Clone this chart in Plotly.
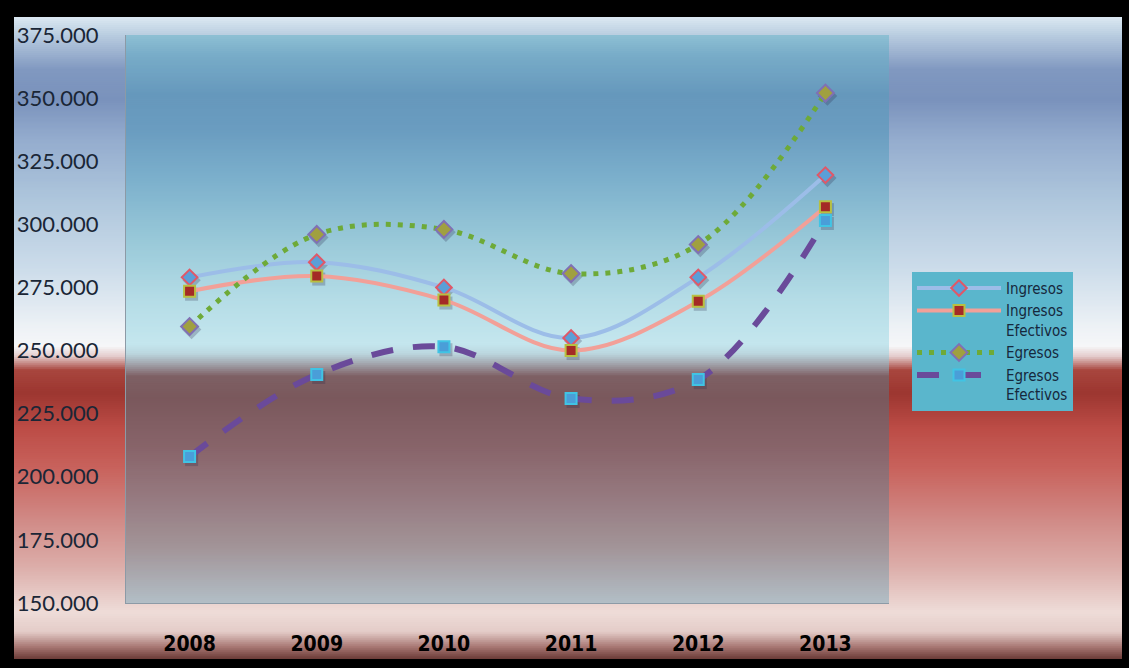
import plotly.graph_objects as go

# ---------------- data ----------------
years = ["2008", "2009", "2010", "2011", "2012", "2013"]
ingresos = [279.0, 285.0, 275.0, 255.0, 279.0, 319.5]
ingresos_efectivos = [273.5, 279.5, 270.0, 250.0, 269.5, 307.0]
egresos = [259.5, 296.0, 298.0, 280.5, 292.0, 352.0]
egresos_efectivos = [208.0, 240.5, 251.5, 231.0, 238.5, 301.5]
series_names = ["Ingresos", "Ingresos<br>Efectivos", "Egresos", "Egresos<br>Efectivos"]
y_ticks = [150, 175, 200, 225, 250, 275, 300, 325, 350, 375]
y_tick_labels = ["150.000", "175.000", "200.000", "225.000", "250.000",
                 "275.000", "300.000", "325.000", "350.000", "375.000"]

# ---------------- geometry / style ----------------
W, H = 1129, 668
ML, MR, MT, MB = 126, 240, 35, 62
PW, PH = W - ML - MR, H - MT - MB

paper_stops = [(17, '#dce9f2'), (35, '#b9cde0'), (70, '#8098c0'), (100, '#7a92bc'),
               (140, '#94acce'), (200, '#aec6dc'), (270, '#ccdcea'), (330, '#eef2f6'),
               (348, '#f6f6f8'), (358, '#e4cccc'), (372, '#a8463e'), (395, '#9c3630'),
               (430, '#bc4c46'), (470, '#c8625c'), (520, '#d08884'), (570, '#dcaeaa'),
               (615, '#eedcd8'), (635, '#e4ccc8'), (650, '#a87874'), (662, '#6c3c38')]
plot_stops = [(35, '#8ec0d4'), (55, '#78acc8'), (95, '#6698bc'), (130, '#6a9cc0'),
              (180, '#7cb0cc'), (240, '#98c8d8'), (300, '#b4dce6'), (345, '#c4e6ee'),
              (355, '#bcd8e0'), (365, '#a4a8b0'), (378, '#7e6064'), (400, '#7a585c'),
              (450, '#88646a'), (500, '#967a80'), (550, '#a29498'), (606, '#b2bec6')]


def hex2rgb(h):
    h = h.lstrip('#')
    return tuple(int(h[i:i + 2], 16) for i in (0, 2, 4))


def interp(stops, y):
    if y <= stops[0][0]:
        return hex2rgb(stops[0][1])
    for (y0, c0), (y1, c1) in zip(stops[:-1], stops[1:]):
        if y0 <= y <= y1:
            t = (y - y0) / (y1 - y0) if y1 > y0 else 0
            a, b = hex2rgb(c0), hex2rgb(c1)
            return tuple(round(a[i] + (b[i] - a[i]) * t) for i in range(3))
    return hex2rgb(stops[-1][1])


shapes = []
step = 2
# outer paper gradient (inside black frame); bands stacked down to the bottom to avoid seams
fx0, fx1, fy0, fy1 = 14, 1122, 17, 662
y = fy0
while y < fy1:
    r, g, b = interp(paper_stops, y + step / 2)
    shapes.append(dict(type="rect", xref="paper", yref="paper", layer="below",
                       x0=(fx0 - ML) / PW, x1=(fx1 - ML) / PW,
                       y0=(H - MB - fy1) / PH, y1=(H - MB - y) / PH,
                       fillcolor=f"rgb({r},{g},{b})", line=dict(width=0)))
    y += step
# plot-area gradient
y = MT
while y < H - MB:
    r, g, b = interp(plot_stops, y + step / 2)
    shapes.append(dict(type="rect", xref="x domain", yref="y domain", layer="below",
                       x0=0, x1=1, y0=0, y1=(H - MB - y) / PH,
                       fillcolor=f"rgb({r},{g},{b})", line=dict(width=0)))
    y += step

xs = list(range(len(years)))
px_per_x = PW / len(years)
px_per_y = PH / (375 - 150)
dx, dy = 2 / px_per_x, -3 / px_per_y

series = [
    dict(name=series_names[0], y=ingresos, lc="#9cbde8", lw=4, dash="solid",
         sym="diamond", ms=12, mc="#5a9fd8", mlc="#e05868"),
    dict(name=series_names[1], y=ingresos_efectivos, lc="#f2a098", lw=4, dash="solid",
         sym="square", ms=11, mc="#a42a26", mlc="#b8c040"),
    dict(name=series_names[2], y=egresos, lc="#6eaa38", lw=5, dash="5px,7px",
         sym="diamond", ms=13, mc="#a0a040", mlc="#8070b4"),
    dict(name=series_names[3], y=egresos_efectivos, lc="#6a4a9a", lw=6, dash="22px,20px",
         sym="square", ms=11, mc="#4a9ed8", mlc="#40c4e4"),
]

fig = go.Figure()
# soft marker shadows
for s in series:
    fig.add_trace(go.Scatter(
        x=[v + dx for v in xs], y=[v + dy for v in s["y"]], mode="markers",
        marker=dict(symbol=s["sym"], size=s["ms"] + 2, color="rgba(40,40,70,0.25)", line=dict(width=0)),
        showlegend=False, hoverinfo="skip"))
for s in series:
    fig.add_trace(go.Scatter(
        x=xs, y=s["y"], name=s["name"], mode="lines+markers",
        line=dict(color=s["lc"], width=s["lw"], shape="spline", dash=s["dash"]),
        marker=dict(symbol=s["sym"], size=s["ms"], color=s["mc"],
                    line=dict(color=s["mlc"], width=2))))

fig.update_layout(
    width=W, height=H,
    margin=dict(l=ML, r=MR, t=MT, b=MB, pad=0),
    paper_bgcolor="#000000",
    plot_bgcolor="rgba(0,0,0,0)",
    shapes=shapes,
    showlegend=True,
    legend=dict(x=(912 - ML) / PW, y=(H - MB - 273) / PH, xanchor="left", yanchor="top",
                bgcolor="#5ab6cc", borderwidth=0, valign="top", itemwidth=84,
                font=dict(family="Liberation Sans Narrow, Arial Narrow, DejaVu Sans Condensed, sans-serif",
                          size=15, color="#16283c"),
                tracegroupgap=0),
    xaxis=dict(range=[-0.5, len(years) - 0.5], tickvals=xs, ticktext=years,
               showgrid=False, zeroline=False, showline=True, linecolor="#8c9aa6", linewidth=1,
               ticks="", ticklabelstandoff=22,
               tickfont=dict(family="Liberation Sans Narrow, Arial Narrow, DejaVu Sans Condensed, sans-serif",
                             size=21, color="#000000", weight="bold")),
    yaxis=dict(range=[150, 375], tickvals=y_ticks, ticktext=y_tick_labels,
               showgrid=False, zeroline=False, showline=True, linecolor="#8c9aa6", linewidth=1,
               ticks="", ticklabelstandoff=22,
               tickfont=dict(family="Lato, Open Sans, sans-serif", size=22, color="#1a2636")),
)

fig.write_html("out.html", config={"displayModeBar": False},
               post_script="document.body.style.margin='0px';")
